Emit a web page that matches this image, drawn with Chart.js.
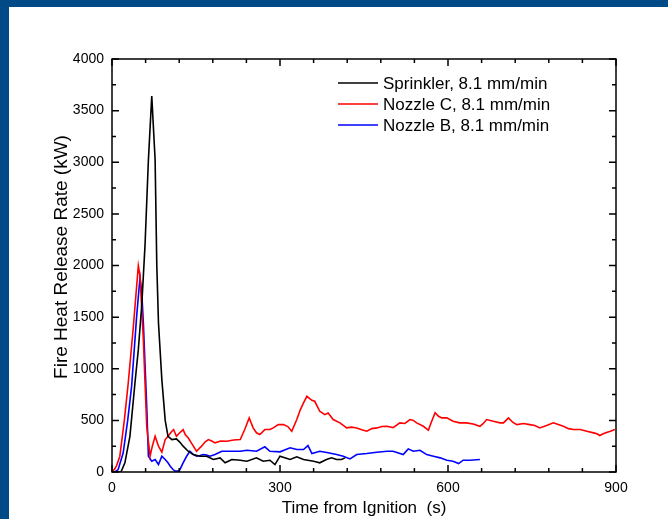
<!DOCTYPE html>
<html>
<head>
<meta charset="utf-8">
<script src="https://cdn.jsdelivr.net/npm/chart.js@4.4.1/dist/chart.umd.min.js"></script>
<style>
    body { margin: 0; background: #004a87; width: 668px; height: 519px; overflow: hidden; }
    .panel { position: absolute; left: 9px; top: 7px; width: 659px; height: 512px; background: #fff; }
    #hrrChart { position: absolute; left: 0; top: 0; }
</style>
</head>
<body>
<div class="panel"></div>
<canvas id="hrrChart" width="668" height="519"></canvas>
<script>
// Datos (tiempo en s, HRR en kW)
const sprinklerTime = [
    0, 10, 16, 23, 32, 41, 47, 53, 59, 65,
    71, 77, 80, 83, 89, 95, 100, 107, 115, 121,
    127, 136, 145, 157, 169, 181, 193, 202, 214, 229,
    241, 258, 270, 282, 291, 300, 318, 330, 342, 360,
    371, 383, 392, 401, 410, 416
];
const sprinklerHrr = [
    0, 0, 0, 89, 346, 862, 1185, 1604, 2200, 3022,
    3641, 3022, 2000, 1443, 895, 500, 346, 314, 320, 290,
    250, 201, 169, 153, 153, 121, 137, 89, 121, 114,
    104, 137, 104, 114, 72, 153, 121, 147, 121, 104,
    89, 121, 137, 121, 121, 137
];

const nozzleCTime = [
    0, 5, 8, 14, 22, 29, 38, 47, 50, 56,
    62, 68, 72, 77, 83, 89, 95, 100, 107, 110,
    115, 121, 127, 131, 136, 143, 151, 160, 166, 172,
    178, 184, 194, 205, 217, 229, 237, 245, 252, 258,
    264, 273, 282, 288, 297, 306, 314, 321, 330, 336,
    342, 348, 357, 362, 371, 380, 386, 395, 407, 419,
    428, 437, 446, 455, 464, 473, 482, 491, 502, 514,
    523, 532, 538, 544, 556, 565, 570, 577, 583, 589,
    598, 609, 621, 633, 645, 657, 663, 669, 681, 693,
    699, 708, 716, 723, 735, 746, 755, 764, 776, 788,
    797, 806, 815, 824, 836, 848, 860, 866, 871, 877,
    883, 890, 898
];
const nozzleCHrr = [
    0, 30, 60, 153, 500, 862, 1400, 1997, 1900, 1281,
    443, 153, 250, 346, 250, 192, 314, 346, 395, 411,
    346, 380, 411, 360, 331, 270, 201, 250, 290, 314,
    300, 282, 300, 298, 310, 314, 411, 524, 427, 380,
    363, 411, 411, 427, 459, 459, 440, 395, 508, 600,
    669, 733, 694, 685, 588, 556, 572, 508, 476, 427,
    435, 427, 410, 395, 420, 427, 440, 443, 430, 476,
    470, 508, 500, 476, 443, 404, 480, 575, 540, 524,
    524, 491, 476, 476, 465, 443, 470, 508, 491, 476,
    476, 524, 480, 459, 470, 459, 450, 427, 450, 476,
    460, 443, 420, 411, 411, 395, 379, 370, 353, 370,
    382, 395, 411
];

const nozzleBTime = [
    0, 5, 11, 20, 28, 35, 44, 50, 53, 56,
    62, 65, 71, 77, 83, 89, 95, 100, 104, 109,
    113, 118, 121, 127, 133, 139, 145, 151, 157, 163,
    169, 175, 184, 196, 211, 229, 241, 258, 273, 282,
    300, 318, 330, 342, 350, 357, 371, 386, 401, 413,
    425, 437, 455, 473, 491, 502, 520, 529, 538, 550,
    562, 574, 586, 598, 609, 619, 627, 639, 657
];
const nozzleBHrr = [
    0, 0, 24, 186, 500, 830, 1507, 1888, 1750, 1443,
    636, 153, 104, 121, 72, 153, 121, 89, 56, 24,
    8, 8, 20, 89, 150, 201, 170, 153, 160, 169,
    165, 153, 169, 201, 201, 201, 211, 201, 244, 201,
    195, 234, 218, 218, 256, 179, 201, 186, 169, 153,
    127, 169, 179, 192, 201, 201, 169, 224, 201, 211,
    169, 153, 137, 114, 104, 82, 114, 114, 121
];

const seriesLabels = ['Sprinkler, 8.1 mm/min', 'Nozzle C, 8.1 mm/min', 'Nozzle B, 8.1 mm/min'];
const xTickLabels = [0, 300, 600, 900];
const yTickLabels = [0, 500, 1000, 1500, 2000, 2500, 3000, 3500, 4000];

function toPoints(times, values) {
    return times.map((t, i) => ({ x: t, y: values[i] }));
}

const FONT = '"Liberation Sans", Arial, sans-serif';

// ====================
// MARCO, TICKS, TÍTULOS Y LEYENDA
// ====================
const framePlugin = {
    id: 'frame',
    afterDraw(chart) {
        const ctx = chart.ctx;
        const a = chart.chartArea;
        const xs = chart.scales.x;
        const ys = chart.scales.y;
        ctx.save();
        ctx.strokeStyle = '#000';
        ctx.lineWidth = 1.5;
        ctx.strokeRect(a.left, a.top, a.right - a.left, a.bottom - a.top);

        // ticks hacia adentro en los cuatro lados
        ctx.beginPath();
        for (let v = 0; v <= 900; v += 60) {
            const px = xs.getPixelForValue(v);
            const len = (v % 300 === 0) ? 7 : 4;
            ctx.moveTo(px, a.bottom); ctx.lineTo(px, a.bottom - len);
            ctx.moveTo(px, a.top); ctx.lineTo(px, a.top + len);
        }
        for (let v = 0; v <= 4000; v += 250) {
            const py = ys.getPixelForValue(v);
            const len = (v % 500 === 0) ? 7 : 4;
            ctx.moveTo(a.left, py); ctx.lineTo(a.left + len, py);
            ctx.moveTo(a.right, py); ctx.lineTo(a.right - len, py);
        }
        ctx.stroke();

        // títulos de ejes
        ctx.fillStyle = '#000';
        ctx.textAlign = 'center';
        ctx.textBaseline = 'middle';
        ctx.font = '17px ' + FONT;
        ctx.fillText('Time from Ignition  (s)', (a.left + a.right) / 2, 508);
        ctx.save();
        ctx.translate(62, 257);
        ctx.rotate(-Math.PI / 2);
        ctx.font = '19px ' + FONT;
        ctx.fillText('Fire Heat Release Rate (kW)', 0, 0);
        ctx.restore();

        // leyenda
        ctx.textAlign = 'left';
        ctx.font = '17px ' + FONT;
        chart.data.datasets.forEach(function(ds, i) {
            const y = 83 + i * 21;
            ctx.strokeStyle = ds.borderColor;
            ctx.lineWidth = 1.5;
            ctx.beginPath();
            ctx.moveTo(338, y); ctx.lineTo(378, y);
            ctx.stroke();
            ctx.fillText(ds.label, 383, y + 1);
        });
        ctx.restore();
    }
};

document.addEventListener('DOMContentLoaded', function() {
    const hrrCtx = document.getElementById('hrrChart');
    new Chart(hrrCtx, {
        type: 'line',
        data: {
            datasets: [
                { label: seriesLabels[0], data: toPoints(sprinklerTime, sprinklerHrr), borderColor: '#000000' },
                { label: seriesLabels[1], data: toPoints(nozzleCTime, nozzleCHrr), borderColor: '#ff0000' },
                { label: seriesLabels[2], data: toPoints(nozzleBTime, nozzleBHrr), borderColor: '#0000ff' }
            ]
        },
        options: {
            responsive: false,
            animation: false,
            devicePixelRatio: 1,
            layout: { padding: { top: 59, right: 52, left: 0, bottom: 0 } },
            elements: {
                line: { borderWidth: 1.6, tension: 0, fill: false },
                point: { radius: 0 }
            },
            scales: {
                x: {
                    type: 'linear',
                    min: 0,
                    max: 900,
                    afterBuildTicks: function(scale) {
                        scale.ticks = xTickLabels.map(v => ({ value: v }));
                    },
                    afterFit: function(scale) { scale.height = 47; },
                    grid: { display: false, drawTicks: false },
                    border: { display: false },
                    ticks: {
                        padding: 8, color: '#000', font: { size: 14, family: FONT }, maxRotation: 0,
                        callback: function(value) { return String(value); }
                    }
                },
                y: {
                    min: 0,
                    max: 4000,
                    afterBuildTicks: function(scale) {
                        scale.ticks = yTickLabels.map(v => ({ value: v }));
                    },
                    afterFit: function(scale) { scale.width = 112; },
                    grid: { display: false, drawTicks: false },
                    border: { display: false },
                    ticks: {
                        padding: 8, color: '#000', font: { size: 14, family: FONT },
                        callback: function(value) { return String(value); }
                    }
                }
            },
            plugins: {
                legend: { display: false },
                tooltip: { enabled: false }
            }
        },
        plugins: [framePlugin]
    });
});
</script>
</body>
</html>
